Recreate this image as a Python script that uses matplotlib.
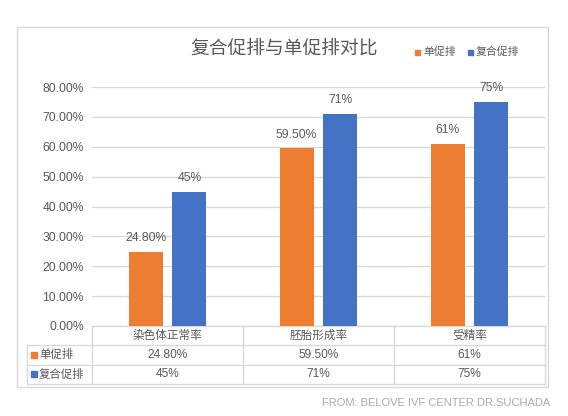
import matplotlib
matplotlib.use("Agg")
import matplotlib.pyplot as plt
from matplotlib.patches import Rectangle
import numpy as np

plt.rcParams['font.family'] = ['Liberation Sans', 'Noto Sans CJK SC', 'DejaVu Sans']

categories = ["染色体正常率", "胚胎形成率", "受精率"]
series_names = ["单促排", "复合促排"]
single = [0.248, 0.595, 0.61]
combined = [0.45, 0.71, 0.75]
single_labels = ["24.80%", "59.50%", "61%"]
combined_labels = ["45%", "71%", "75%"]
yticks = [0, 0.1, 0.2, 0.3, 0.4, 0.5, 0.6, 0.7, 0.8]

orange = "#ED7D31"
blue = "#4472C4"
txt = "#595959"
grid = "#D9D9D9"
cjk = ['Noto Sans CJK SC', 'DejaVu Sans']

fig = plt.figure(figsize=(5.68, 4.16), dpi=100)
W, H = 568, 416

# outer chart border
fig.add_artist(Rectangle((17 / W, 1 - 387 / H), (548 - 17) / W, (387 - 27) / H,
                         transform=fig.transFigure, fill=False, ec=grid, lw=1))

ax = fig.add_axes([92 / W, 1 - 326 / H, (545 - 92) / W, (326 - 87) / H])
x = np.arange(len(categories))
bw = 0.225
off = 0.145
ax.bar(x - off, single, bw, color=orange, zorder=3)
ax.bar(x + off, combined, bw, color=blue, zorder=3)

for i in range(len(categories)):
    ax.text(x[i] - off, single[i] + 0.025, single_labels[i], ha="center", va="bottom",
            fontsize=8.7, color=txt)
    ax.text(x[i] + off, combined[i] + 0.025, combined_labels[i], ha="center", va="bottom",
            fontsize=8.7, color=txt)

ax.set_xlim(-0.5, 2.5)
ax.set_ylim(0, 0.8)
ax.set_yticks(yticks)
ax.set_yticklabels(["%.2f%%" % (v * 100) for v in yticks], fontsize=8.7, color=txt)
ax.set_xticks([])
ax.tick_params(axis="y", length=0, pad=6)
ax.grid(axis="y", color=grid, lw=1, zorder=0)
for s in ax.spines.values():
    s.set_visible(False)

# data table below the axis
tr = ax.get_xaxis_transform()
rh = 19.3 / 239
lab_left = -0.5 - 65 / 151
line_kw = dict(color=grid, lw=1, transform=tr, clip_on=False)
ax.plot([-0.5, 2.5], [0, 0], **line_kw)
for r in range(1, 4):
    ax.plot([lab_left, 2.5], [-r * rh, -r * rh], **line_kw)
for xv in [-0.5, 0.5, 1.5, 2.5]:
    ax.plot([xv, xv], [0, -3 * rh], **line_kw)
ax.plot([lab_left, lab_left], [-rh, -3 * rh], **line_kw)

for i, c in enumerate(categories):
    ax.text(x[i], -0.5 * rh, c, ha="center", va="center", fontsize=8.4, color=txt,
            transform=tr, family=cjk)
    ax.text(x[i], -1.5 * rh, single_labels[i], ha="center", va="center", fontsize=8.6,
            color=txt, transform=tr)
    ax.text(x[i], -2.5 * rh, combined_labels[i], ha="center", va="center", fontsize=8.6,
            color=txt, transform=tr)

for r, (name, col) in enumerate(zip(series_names, [orange, blue])):
    yc = -(r + 1.5) * rh
    ax.plot([lab_left + 0.045], [yc], marker="s", ms=5, color=col, transform=tr, clip_on=False)
    ax.text(lab_left + 0.08, yc, name, ha="left", va="center", fontsize=8.2, color=txt,
            transform=tr, family=cjk)

# title and legend
fig.text(284 / W, 1 - 48 / H, "复合促排与单促排对比", ha="center", va="center",
         fontsize=13.5, color=txt, family=cjk)
ly = 1 - 52 / H
fig.patches.append(Rectangle((415 / W, ly - 2.5 / H), 5 / W, 5 / H, transform=fig.transFigure,
                             color=orange))
fig.text(423 / W, ly, series_names[0], ha="left", va="center", fontsize=7.8, color=txt, family=cjk)
fig.patches.append(Rectangle((468 / W, ly - 2.5 / H), 5 / W, 5 / H, transform=fig.transFigure,
                             color=blue))
fig.text(476 / W, ly, series_names[1], ha="left", va="center", fontsize=7.8, color=txt, family=cjk)

fig.text(550 / W, 1 - 403 / H, "FROM: BELOVE IVF CENTER DR.SUCHADA", ha="right", va="center",
         fontsize=8.0, color="#AAAAAA")

fig.savefig("out.png", dpi=100)
